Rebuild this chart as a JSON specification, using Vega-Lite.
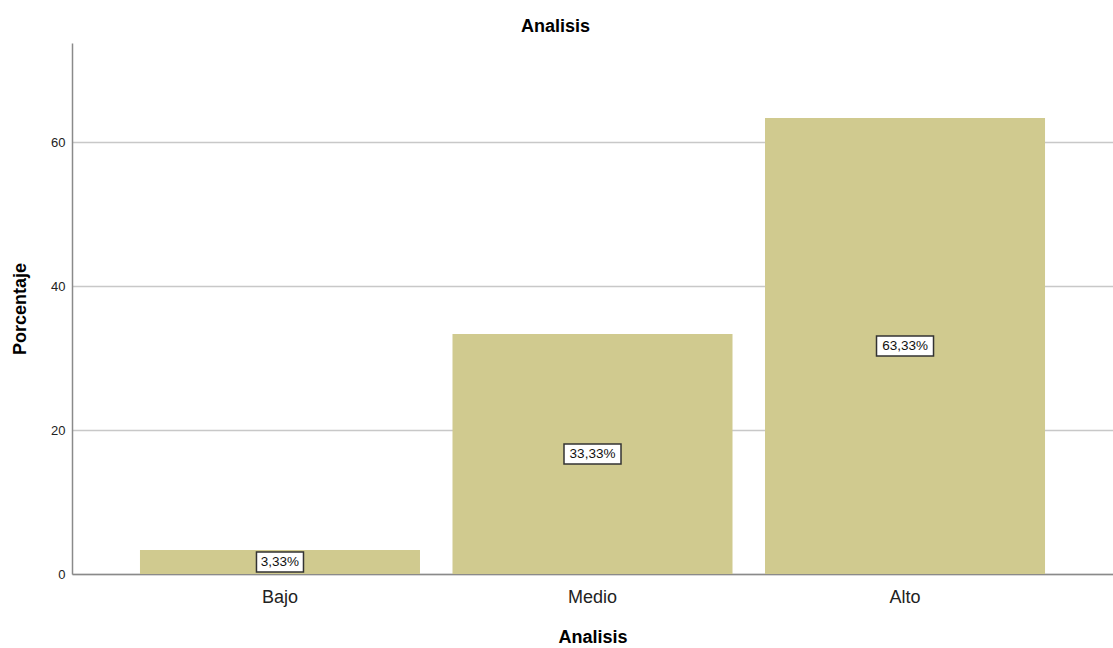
{
  "$schema": "https://vega.github.io/schema/vega-lite/v6.json",
  "width": 1041,
  "height": 531,
  "autosize": {"type": "none"},
  "padding": {"left": 72, "top": 43, "right": 0, "bottom": 74},
  "background": "white",
  "title": {"text": "Analisis", "font": "Liberation Sans", "fontSize": 18, "fontWeight": "bold", "color": "#000", "anchor": "middle", "dx": -37, "offset": 7},
  "data": {"values": [
    {"cat": "Bajo", "pct": 3.33, "label": "3,33%"},
    {"cat": "Medio", "pct": 33.33, "label": "33,33%"},
    {"cat": "Alto", "pct": 63.33, "label": "63,33%"}
  ]},
  "transform": [{"calculate": "datum.pct / 2", "as": "mid"}],
  "encoding": {
    "x": {"field": "cat", "type": "nominal", "sort": ["Bajo", "Medio", "Alto"],
      "scale": {"paddingInner": 0.104, "paddingOuter": 0.2175},
      "axis": {"title": "Analisis", "labelAngle": 0, "ticks": false, "labelFont": "Liberation Sans", "labelFontSize": 18, "labelColor": "#222", "labelPadding": 14, "titleFont": "Liberation Sans", "titleFontSize": 18, "titleFontWeight": "bold", "titleColor": "#000", "titlePadding": 22, "domainColor": "#8a8a8a", "domainWidth": 1.5, "grid": false}}
  },
  "layer": [
    {
      "mark": {"type": "bar", "color": "#d0ca8f"},
      "encoding": {
        "y": {"field": "pct", "type": "quantitative",
          "scale": {"domain": [0, 73.75], "nice": false},
          "axis": {"title": "Porcentaje", "values": [0, 20, 40, 60], "ticks": false, "labelFont": "Liberation Sans", "labelFontSize": 13, "labelColor": "#222", "labelPadding": 7, "titleFont": "Liberation Sans", "titleFontSize": 18, "titleFontWeight": "bold", "titleColor": "#000", "titlePadding": 21, "domainColor": "#8a8a8a", "domainWidth": 1.5, "grid": true, "gridColor": "#c8c8c8", "gridWidth": 1.5}}
      }
    },
    {
      "transform": [{"filter": "datum.cat == 'Bajo'"}],
      "mark": {"type": "rect", "width": 47, "height": 20, "fill": "white", "stroke": "#333", "strokeWidth": 1.5},
      "encoding": {"y": {"field": "mid", "type": "quantitative"}}
    },
    {
      "transform": [{"filter": "datum.cat != 'Bajo'"}],
      "mark": {"type": "rect", "width": 57, "height": 20, "fill": "white", "stroke": "#333", "strokeWidth": 1.5},
      "encoding": {"y": {"field": "mid", "type": "quantitative"}}
    },
    {
      "mark": {"type": "text", "font": "Liberation Sans", "fontSize": 13.5, "color": "#111", "baseline": "middle", "align": "center"},
      "encoding": {"y": {"field": "mid", "type": "quantitative"}, "text": {"field": "label"}}
    }
  ],
  "config": {"view": {"stroke": null}}
}
